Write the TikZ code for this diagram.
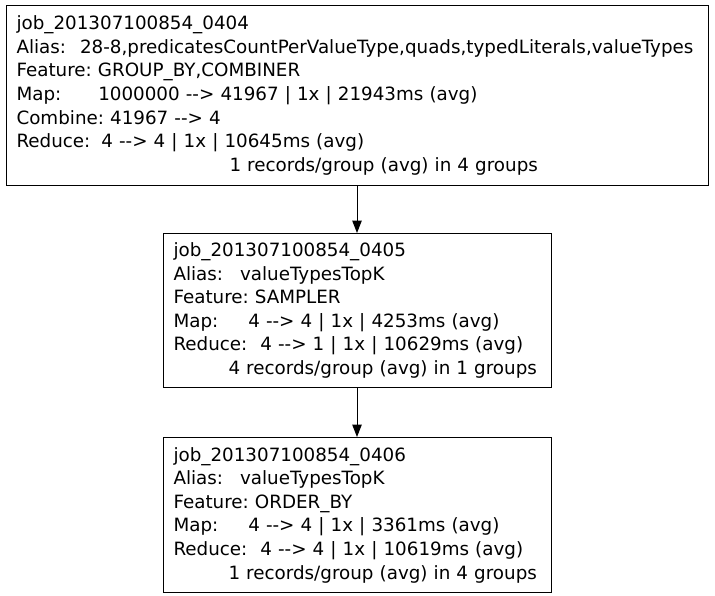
\documentclass[tikz,border=0pt]{standalone}
\usepackage{fontspec}
\setmainfont{DejaVu Sans}
\usetikzlibrary{positioning,arrows.meta}
\tikzstyle{job} = [draw,line width=1pt,align=left,inner xsep=10.5pt,font=\frenchspacing\fontsize{18.3}{23.6}\selectfont]
\tikzstyle{line} = [draw,line width=1pt,-{Triangle[length=12.5pt,width=9.5pt]}]

\begin{document}
\begin{tikzpicture}[x=1pt,y=1pt,node distance=47pt]
\useasboundingbox (0,0) rectangle (715,-595);
\node[job,text width=681pt,minimum height=180pt,anchor=north] (job0404) at (357,-5) {job\_201307100854\_0404\\
\mbox{Alias:\hspace{14pt}28-8,predicatesCountPerValueType,quads,typedLiterals,valueTypes}\\
Feature: GROUP\_BY,COMBINER\\
Map:\hspace{37pt}1000000 -{}-> 41967 | 1x | 21943ms (avg)\\
Combine: 41967 -{}-> 4\\
Reduce:\hspace{11pt}4 -{}-> 4 | 1x | 10645ms (avg)\\
\mbox{\hspace*{213pt}1 records/group (avg) in 4 groups}};
\node[job,text width=367pt,minimum height=154pt,below=47pt of job0404] (job0405) {job\_201307100854\_0405\\
Alias:\hspace{17pt}valueTypesTopK\\
Feature: SAMPLER\\
Map:\hspace{30pt}4 -{}-> 4 | 1x | 4253ms (avg)\\
\mbox{Reduce:\hspace{13pt}4 -{}-> 1 | 1x | 10629ms (avg)}\\
\mbox{\hspace*{55pt}4 records/group (avg) in 1 groups}};
\node[job,text width=367pt,minimum height=155pt,below=49pt of job0405] (job0406) {job\_201307100854\_0406\\
Alias:\hspace{17pt}valueTypesTopK\\
Feature: ORDER\_BY\\
Map:\hspace{30pt}4 -{}-> 4 | 1x | 3361ms (avg)\\
\mbox{Reduce:\hspace{13pt}4 -{}-> 4 | 1x | 10619ms (avg)}\\
\mbox{\hspace*{55pt}1 records/group (avg) in 4 groups}};
\path [line] (job0404) -- (job0405);
\path [line] (job0405) -- (job0406);
\end{tikzpicture}
\end{document}
